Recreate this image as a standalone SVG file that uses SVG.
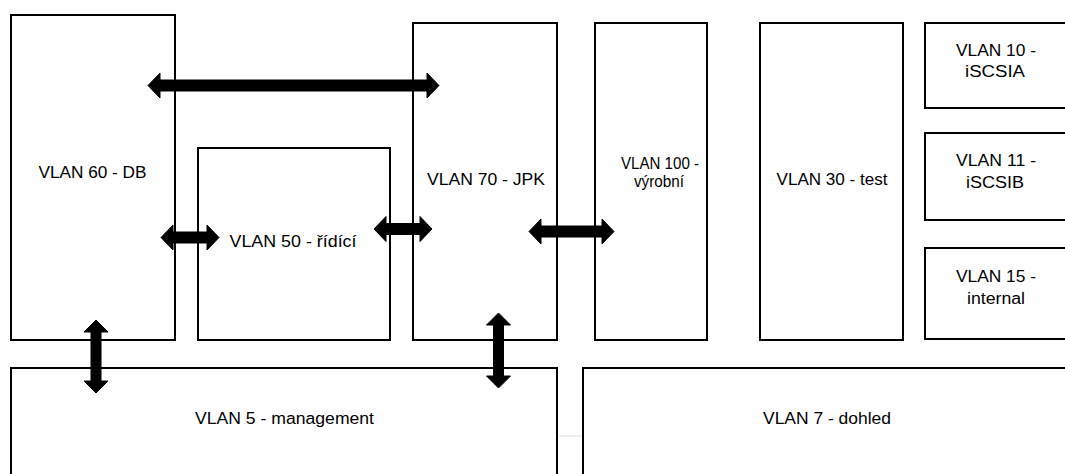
<svg xmlns="http://www.w3.org/2000/svg" width="1065" height="474" viewBox="0 0 1065 474">
<style>
.box{fill:#fff;stroke:#000;stroke-width:2}
.lbl{font-family:"Liberation Sans",Arial,sans-serif;font-size:16px;fill:#000;text-anchor:middle}
.arr{fill:#000;stroke:#000;stroke-width:1;stroke-linejoin:round}
</style>
<rect width="1065" height="474" fill="#fff"/>
<line x1="559" y1="436" x2="582" y2="436" stroke="#e0e0e0" stroke-width="1"/>
<g id="vlan60"><rect class="box" x="11" y="15" width="164" height="325"/><text class="lbl" x="92.5" y="178" textLength="108" lengthAdjust="spacingAndGlyphs">VLAN 60 - DB</text></g>
<g id="vlan50"><rect class="box" x="198" y="148" width="192" height="192"/><text class="lbl" x="293" y="247" textLength="127" lengthAdjust="spacingAndGlyphs">VLAN 50 - řídící</text></g>
<g id="vlan70"><rect class="box" x="413" y="23" width="144" height="317"/><text class="lbl" x="486" y="185" textLength="118" lengthAdjust="spacingAndGlyphs">VLAN 70 - JPK</text></g>
<g id="vlan100"><rect class="box" x="595" y="23" width="112" height="317"/><text class="lbl" x="660" y="169" textLength="78" lengthAdjust="spacingAndGlyphs">VLAN 100 -</text><text class="lbl" x="659" y="187" textLength="50" lengthAdjust="spacingAndGlyphs">výrobní</text></g>
<g id="vlan30"><rect class="box" x="760" y="23" width="143" height="317"/><text class="lbl" x="832" y="185" textLength="111" lengthAdjust="spacingAndGlyphs">VLAN 30 - test</text></g>
<g id="vlan10"><rect class="box" x="925" y="23" width="150" height="85"/><text class="lbl" x="996" y="56" textLength="80" lengthAdjust="spacingAndGlyphs">VLAN 10 -</text><text class="lbl" x="995" y="77" textLength="60" lengthAdjust="spacingAndGlyphs">iSCSIA</text></g>
<g id="vlan11"><rect class="box" x="925" y="133" width="150" height="87"/><text class="lbl" x="996" y="166" textLength="80" lengthAdjust="spacingAndGlyphs">VLAN 11 -</text><text class="lbl" x="995" y="188" textLength="58" lengthAdjust="spacingAndGlyphs">iSCSIB</text></g>
<g id="vlan15"><rect class="box" x="925" y="248" width="150" height="91"/><text class="lbl" x="996" y="282" textLength="80" lengthAdjust="spacingAndGlyphs">VLAN 15 -</text><text class="lbl" x="996" y="304" textLength="58" lengthAdjust="spacingAndGlyphs">internal</text></g>
<g id="vlan5"><rect class="box" x="11" y="368" width="546" height="120"/><text class="lbl" x="284.5" y="424" textLength="179" lengthAdjust="spacingAndGlyphs">VLAN 5 - management</text></g>
<g id="vlan7"><rect class="box" x="583" y="368" width="500" height="120"/><text class="lbl" x="827" y="424" textLength="128" lengthAdjust="spacingAndGlyphs">VLAN 7 - dohled</text></g>
<g id="connectors">
<polygon class="arr" points="148,85.5 160,73 160,80 427,80 427,73 439,85.5 427,98 427,91 160,91 160,98"/>
<polygon class="arr" points="161,237.5 173,225 173,232 207,232 207,225 219,237.5 207,250 207,243 173,243 173,250"/>
<polygon class="arr" points="374,229 386,216.5 386,223.5 420,223.5 420,216.5 432,229 420,241.5 420,234.5 386,234.5 386,241.5"/>
<polygon class="arr" points="529,231.5 541,219 541,226 602,226 602,219 614,231.5 602,244 602,237 541,237 541,244"/>
<polygon class="arr" points="96,320 108,332 101,332 101,381 108,381 96,393 84,381 91,381 91,332 84,332"/>
<polygon class="arr" points="498.5,313 510.5,325 503.5,325 503.5,376 510.5,376 498.5,388 486.5,376 493.5,376 493.5,325 486.5,325"/>
</g>
</svg>
